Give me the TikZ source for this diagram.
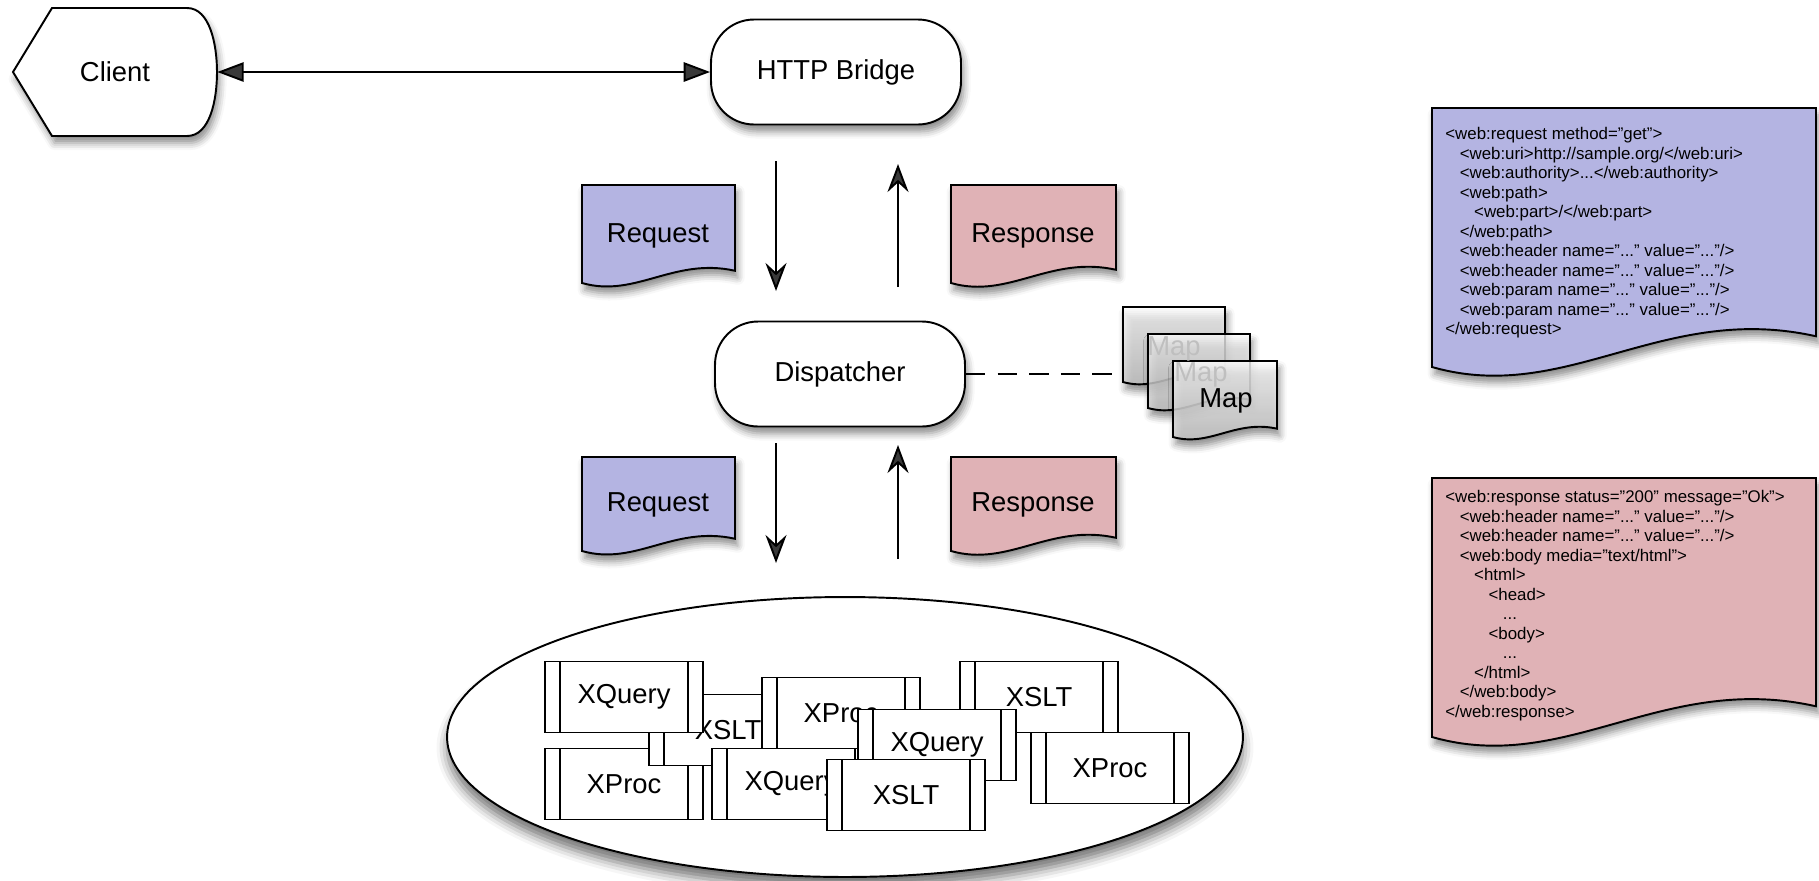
\documentclass[tikz,border=0pt]{standalone}
\usepackage{fontspec}
\setmainfont{Liberation Sans}
\usetikzlibrary{arrows.meta, shapes.geometric, shadows.blur}

\definecolor{reqblue}{RGB}{180,180,226}
\definecolor{resppink}{RGB}{224,178,182}
\definecolor{mapgray}{RGB}{196,196,196}

\tikzset{
  softshadow/.style={blur shadow={shadow xshift=1.5pt, shadow yshift=-4pt, shadow blur radius=4pt, shadow opacity=45}},
  outline/.style={draw=black, line width=1.1pt},
  txt/.style={font=\fontsize{15.6}{18}\selectfont},
  terminal/.style={outline, fill=white, rectangle, rounded corners=0.86cm, minimum width=5cm, minimum height=2.1cm, softshadow, txt},
  flow/.style={line width=1.1pt, -{Stealth[length=16pt, width=12pt, inset=5.5pt]}},
  biflow/.style={line width=1.1pt, {Triangle[length=15pt, width=11pt]}-{Triangle[length=15pt, width=11pt]}},
  proc/.style={outline, fill=white, minimum width=3.16cm, minimum height=1.42cm, inner sep=0pt, txt,
    path picture={\draw[line width=1.1pt]
      ([xshift=0.3cm]path picture bounding box.north west) -- ([xshift=0.3cm]path picture bounding box.south west)
      ([xshift=-0.3cm]path picture bounding box.north east) -- ([xshift=-0.3cm]path picture bounding box.south east);}},
  mapdoc/.style={top color=white, bottom color=mapgray, fill opacity=0.75, softshadow},
  xmltext/.style={font=\fontsize{9.6}{11.1}\selectfont, align=left, anchor=north west, inner sep=0pt},
}

% document shape: left, top, right, bottom-left
\newcommand{\docshape}[5][]{%
  \draw[outline, #1] (#2,#3) -- (#4,#3) -- ({#4},{#5-0.08*(#4-#2)})
    .. controls ({#2+0.6*(#4-#2)},{#5-0.17*(#4-#2)}) and ({#2+0.35*(#4-#2)},{#5+0.1*(#4-#2)}) .. (#2,#5) -- cycle;}

\begin{document}
\begin{tikzpicture}[x=0.02cm, y=-0.02cm]
\useasboundingbox (0,0) rectangle (1819,880);

\draw[outline, fill=white, softshadow] (13,72) -- (52,8) -- (187,8) .. controls (210,8) and (217,45) .. (217,72)
  .. controls (217,100) and (210,136) .. (187,136) -- (52,136) -- cycle;
\node[txt, minimum width=4.08cm, minimum height=2.56cm, inner sep=0pt] (client) at (115,72) {Client};

\node[terminal] (bridge) at (836,72) {HTTP Bridge};
\node[terminal] (disp) at (840,374) {Dispatcher};

\draw[biflow] (client.east) -- (bridge.west);

\coordinate (dnA) at (776,161); \coordinate (dnB) at (776,291);
\coordinate (upA) at (898,287); \coordinate (upB) at (898,164);
\coordinate (dnC) at (776,443); \coordinate (dnD) at (776,563);
\coordinate (upC) at (898,559); \coordinate (upD) at (898,445);
\draw[flow] (dnA) -- (dnB);
\draw[flow] (upA) -- (upB);
\draw[flow] (dnC) -- (dnD);
\draw[flow] (upC) -- (upD);

\docshape[fill=reqblue, softshadow]{582}{185}{735}{283}
\node[txt] (req1) at (658,236) {Request};
\docshape[fill=resppink, softshadow]{951}{185}{1116}{283}
\node[txt] (resp1) at (1033,236) {Response};
\docshape[fill=reqblue, softshadow]{582}{457}{735}{551}
\node[txt] (req2) at (658,505) {Request};
\docshape[fill=resppink, softshadow]{951}{457}{1116}{551}
\node[txt] (resp2) at (1033,505) {Response};

\docshape[mapdoc]{1123}{307}{1225}{382}
\docshape[mapdoc]{1148}{334}{1250}{408}
\docshape[mapdoc, fill opacity=0.8]{1173}{361}{1277}{437}
\node[txt, text=gray!50, minimum width=2.04cm, minimum height=1.5cm] (map1) at (1174,349) {Map};
\node[txt, text=gray!50] (map2) at (1201,375) {Map};
\node[txt] (map3) at (1226,401) {Map};

\draw[line width=1.1pt, dash pattern=on 11pt off 7pt] (disp.east) -- (disp.east -| map1.west);

\node[ellipse, outline, fill=white, minimum width=15.92cm, minimum height=5.6cm,
  blur shadow={shadow xshift=0pt, shadow yshift=-6pt, shadow blur radius=6pt, shadow opacity=55}] (pool) at (845,737) {};

\node[proc] (xslt2) at (1039,697) {XSLT};
\node[proc] (xproc1) at (624,784) {XProc};
\node[proc] (xslt1) at (728,730) {XSLT};
\node[proc] (xquery1) at (624,697) {XQuery};
\node[proc] (xproc2) at (841,713) {XProc};
\node[proc] (xquery2) at (791,784) {XQuery};
\node[proc] (xquery3) at (937,745) {XQuery};
\node[proc] (xproc3) at (1110,768) {XProc};
\node[proc] (xslt3) at (906,795) {XSLT};

\docshape[fill=reqblue, softshadow]{1432}{108}{1816}{367}
\node[xmltext] (reqxml) at (1445,127) {<web:request method="get">\\
\hspace*{8.2pt}<web:uri>http://sample.org/</web:uri>\\
\hspace*{8.2pt}<web:authority>...</web:authority>\\
\hspace*{8.2pt}<web:path>\\
\hspace*{16.4pt}<web:part>/</web:part>\\
\hspace*{8.2pt}</web:path>\\
\hspace*{8.2pt}<web:header name="..." value="..."/>\\
\hspace*{8.2pt}<web:header name="..." value="..."/>\\
\hspace*{8.2pt}<web:param name="..." value="..."/>\\
\hspace*{8.2pt}<web:param name="..." value="..."/>\\
</web:request>};

\docshape[fill=resppink, softshadow]{1432}{478}{1816}{737}
\node[xmltext] (respxml) at (1445,490) {<web:response status="200" message="Ok">\\
\hspace*{8.2pt}<web:header name="..." value="..."/>\\
\hspace*{8.2pt}<web:header name="..." value="..."/>\\
\hspace*{8.2pt}<web:body media="text/html">\\
\hspace*{16.4pt}<html>\\
\hspace*{24.6pt}<head>\\
\hspace*{32.8pt}...\\
\hspace*{24.6pt}<body>\\
\hspace*{32.8pt}...\\
\hspace*{16.4pt}</html>\\
\hspace*{8.2pt}</web:body>\\
</web:response>};
\end{tikzpicture}
\end{document}
